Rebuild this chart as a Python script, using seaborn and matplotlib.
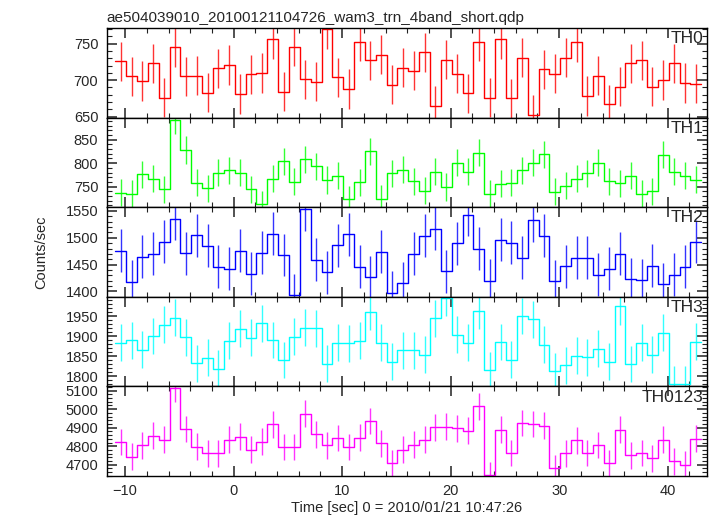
import numpy as np
import pandas as pd
import matplotlib
matplotlib.use("Agg")
import matplotlib.pyplot as plt
from matplotlib.ticker import MultipleLocator
import seaborn as sns

title = "ae504039010_20100121104726_wam3_trn_4band_short.qdp"
bands = ["TH0", "TH1", "TH2", "TH3", "TH0123"]
colors = ["#ff0000", "#00ff00", "#0000ff", "#00ffff", "#ff00ff"]

# 1 s bins, first bin centred at -10.4 s
t_first = -10.4
bin_w = 1.0
n_bins = 54

th0 = [726, 705, 699, 723, 676, 745, 705, 706, 683, 716,
       721, 681, 708, 710, 756, 684, 746, 701, 698, 770,
       704, 688, 753, 727, 735, 694, 717, 713, 738, 665,
       728, 709, 682, 753, 676, 756, 675, 731, 652, 715,
       709, 731, 752, 678, 706, 667, 691, 723, 727, 691,
       700, 723, 696, 695]
th1 = [737, 734, 776, 767, 744, 891, 828, 758, 746, 780,
       785, 780, 744, 712, 767, 804, 760, 808, 793, 764,
       773, 723, 759, 825, 724, 778, 786, 761, 741, 782,
       749, 801, 782, 822, 734, 756, 758, 785, 801, 819,
       739, 752, 767, 778, 801, 761, 757, 773, 734, 740,
       818, 782, 773, 765]
th2 = [1476, 1418, 1465, 1470, 1493, 1535, 1471, 1505, 1485, 1446,
       1442, 1476, 1433, 1472, 1508, 1468, 1393, 1553, 1459, 1436,
       1486, 1507, 1446, 1426, 1474, 1398, 1415, 1470, 1504, 1517,
       1438, 1490, 1543, 1480, 1420, 1496, 1491, 1463, 1533, 1504,
       1419, 1447, 1463, 1463, 1431, 1442, 1470, 1423, 1421, 1448,
       1413, 1431, 1446, 1493]
th3 = [1883, 1889, 1866, 1900, 1928, 1946, 1897, 1832, 1846, 1818,
       1888, 1918, 1896, 1932, 1890, 1840, 1898, 1921, 1919, 1831,
       1883, 1882, 1888, 1961, 1883, 1836, 1864, 1864, 1853, 1944,
       1995, 1903, 1883, 1963, 1815, 1885, 1841, 1950, 1942, 1878,
       1812, 1827, 1851, 1847, 1868, 1836, 1974, 1830, 1883, 1853,
       1908, 1779, 1780, 1886]
th0123 = [4822, 4744, 4804, 4857, 4836, 5112, 4893, 4798, 4762, 4762,
          4836, 4852, 4782, 4825, 4918, 4796, 4796, 4976, 4865, 4804,
          4845, 4796, 4847, 4936, 4816, 4709, 4782, 4809, 4836, 4902,
          4906, 4897, 4884, 5015, 4645, 4890, 4764, 4926, 4920, 4911,
          4680, 4762, 4832, 4764, 4807, 4709, 4890, 4750, 4764, 4735,
          4836, 4718, 4700, 4840]

# typical error bar half-length per band
errs = [27, 29, 40, 46, 72]

ylims = [(648.6, 771.5), (706, 897), (1390, 1557), (1774, 1998), (4639, 5123)]
ymajor = [50, 50, 50, 50, 100]
yminor = [10, 10, 10, 10, 20]

rates = [th0, th1, th2, th3, th0123]
time = t_first + bin_w * np.arange(n_bins)

df = pd.concat([pd.DataFrame({"t": time, "rate": r, "band": b})
                for r, b in zip(rates, bands)], ignore_index=True)

sns.set_theme(style="ticks")
plt.rcParams["font.family"] = ["Liberation Sans", "DejaVu Sans"]

fig, axes = plt.subplots(5, 1, sharex=True, figsize=(7.17, 5.16), dpi=100,
                         gridspec_kw={"hspace": 0})
fig.subplots_adjust(left=0.1488, right=0.9857, top=0.9457, bottom=0.0775)

for ax, band, c, err, yl, ymj, ymn in zip(axes, bands, colors, errs, ylims, ymajor, yminor):
    d = df[df.band == band]
    # histogram-style steps from bin edges
    step = pd.DataFrame({"t": np.append(d.t.values - bin_w / 2, d.t.values[-1] + bin_w / 2),
                         "rate": np.append(d.rate.values, d.rate.values[-1])})
    sns.lineplot(data=step, x="t", y="rate", ax=ax, color=c, lw=1.0,
                 drawstyle="steps-post", estimator=None, sort=False, legend=False)
    ax.errorbar(d.t, d.rate, yerr=err, fmt="none", ecolor=c, elinewidth=1.0,
                capsize=0, alpha=0.8)

    ax.set_xlim(-11.7, 43.6)
    ax.set_ylim(*yl)
    ax.xaxis.set_major_locator(MultipleLocator(10))
    ax.xaxis.set_minor_locator(MultipleLocator(2))
    ax.yaxis.set_major_locator(MultipleLocator(ymj))
    ax.yaxis.set_minor_locator(MultipleLocator(ymn))
    ax.tick_params(which="both", direction="in", top=True, right=True,
                   labelsize=10.5, color="#222222")
    ax.tick_params(which="major", length=7, width=1.1, pad=6)
    ax.tick_params(which="minor", length=3.5, width=0.8)
    for s in ax.spines.values():
        s.set_color("black")
        s.set_linewidth(1.0)
    ax.set_ylabel("")
    ax.set_xlabel("")
    ax.text(0.994, 0.965, band, transform=ax.transAxes, ha="right", va="top",
            fontsize=12.5)

axes[0].set_title(title, loc="left", fontsize=11, pad=4)
axes[-1].set_xlabel("Time [sec] 0 = 2010/01/21 10:47:26", fontsize=10.5, labelpad=2)
fig.text(0.057, (0.9457 + 0.0775) / 2, "Counts/sec", rotation=90,
         ha="center", va="center", fontsize=10.5)

fig.savefig("out.png", dpi=100)
